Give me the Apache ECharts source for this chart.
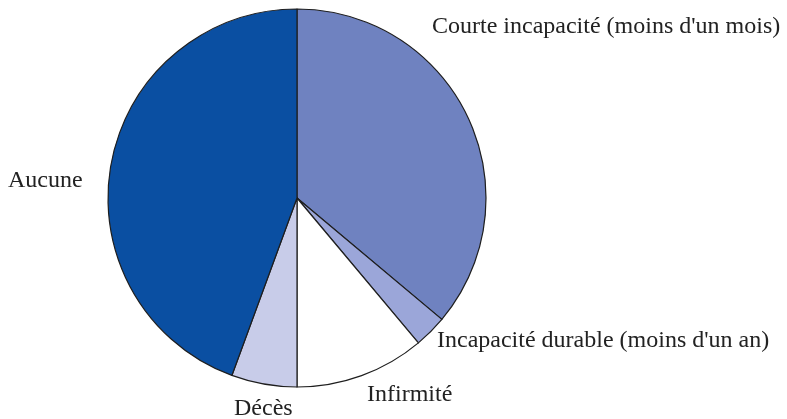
<!DOCTYPE html>
<html>
<head>
<meta charset="utf-8">
<script src="https://cdn.jsdelivr.net/npm/echarts@6/dist/echarts.min.js"></script>
<style>
  html, body { margin: 0; padding: 0; background: #ffffff; }
  #chart { width: 787px; height: 419px; }
</style>
</head>
<body>
<div id="chart"></div>
<script>
// Consequences categories, clockwise from 12 o'clock
const categories = [
  "Courte incapacité (moins d'un mois)",
  "Incapacité durable (moins d'un an)",
  "Infirmité",
  "Décès",
  "Aucune"
];
// Share of cases (%)
const shares = [36.1, 2.8, 11.1, 5.6, 44.4];
const sliceColors = ['#6f82c0', '#9ba6d9', '#ffffff', '#c8cce9', '#0a4fa2'];

// Label anchors (left edge, vertical middle) for each category
const labelAnchors = [
  [432, 27],
  [437, 341],
  [367, 395],
  [234, 409],
  [8, 181]
];

const chart = echarts.init(document.getElementById('chart'), null, { renderer: 'canvas' });

chart.setOption({
  animation: false,
  backgroundColor: '#ffffff',
  series: [{
    type: 'pie',
    center: [297, 198],
    radius: 189,
    startAngle: 90,
    clockwise: true,
    avoidLabelOverlap: false,
    data: categories.map((name, i) => ({
      name: name,
      value: shares[i],
      itemStyle: { color: sliceColors[i] }
    })),
    itemStyle: { borderColor: '#1e1e1e', borderWidth: 1.2 },
    label: {
      show: true,
      position: 'outside',
      formatter: '{b}',
      fontFamily: 'Liberation Serif',
      fontSize: 24,
      color: '#222222',
      overflow: 'none',
      width: 400
    },
    labelLine: { show: false },
    labelLayout: function (params) {
      const a = labelAnchors[params.dataIndex];
      return { x: a[0], y: a[1], align: 'left', verticalAlign: 'middle' };
    },
    emphasis: { disabled: true }
  }]
});
</script>
</body>
</html>
